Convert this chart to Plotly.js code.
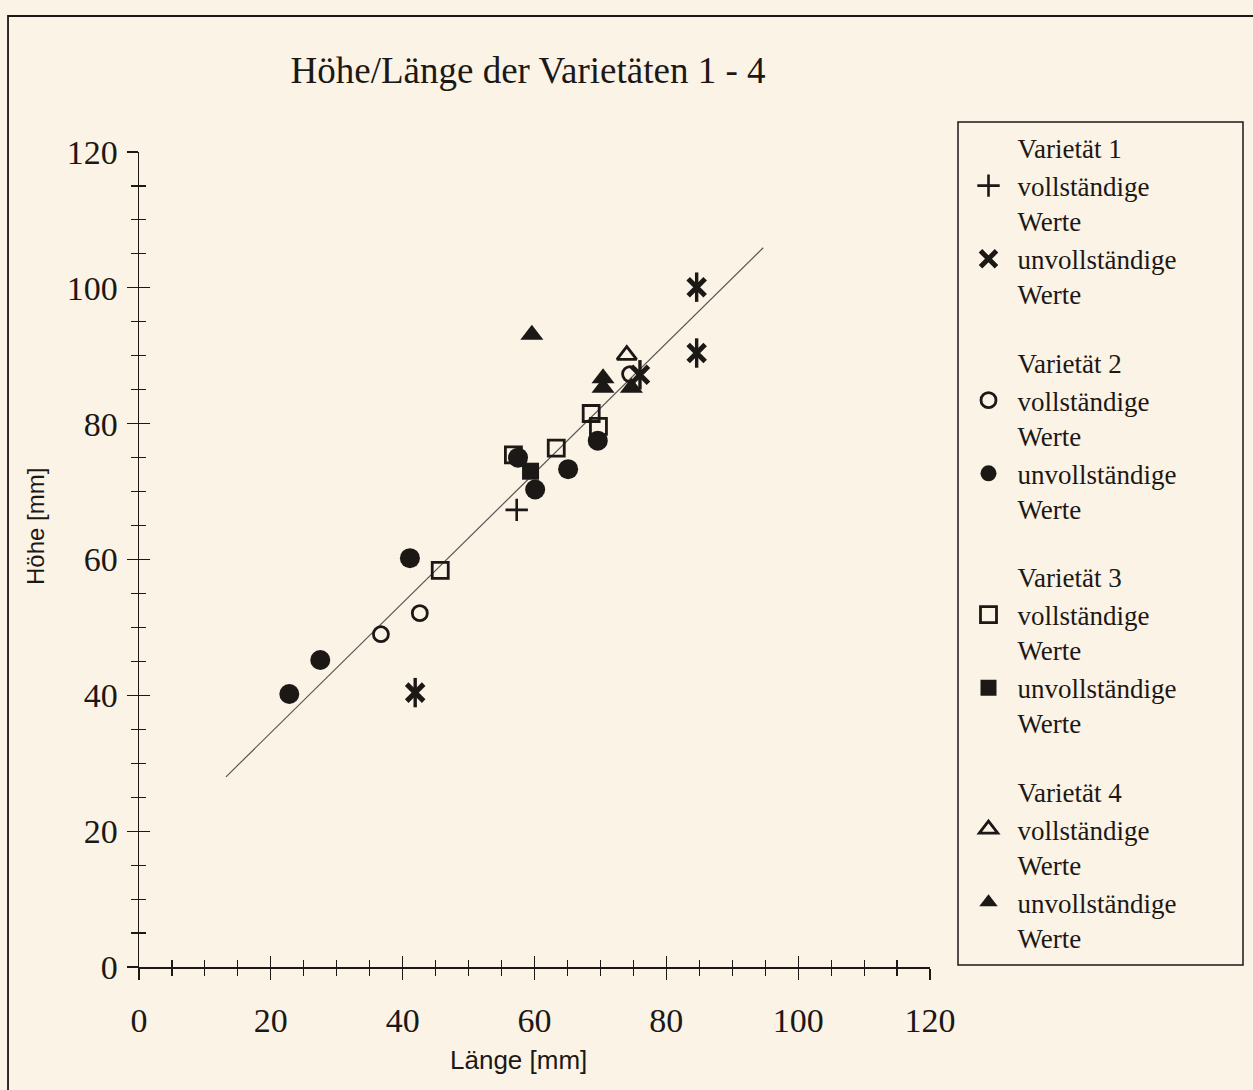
<!DOCTYPE html>
<html>
<head>
<meta charset="utf-8">
<script src="https://cdn.plot.ly/plotly-3.0.1.min.js"></script>
<style>
html,body{margin:0;padding:0;background:#fbf3e5;}
#chart{width:1253px;height:1090px;}
</style>
</head>
<body>
<div id="chart"></div>
<script>
// ---- data ----
var v1CompleteX = [57.3];
var v1CompleteY = [67.3];
var v1IncompleteX = [41.9, 84.6, 84.6, 76.0];
var v1IncompleteY = [40.4, 100.1, 90.4, 87.2];

var v2CompleteX = [36.7, 42.6, 74.5];
var v2CompleteY = [49.0, 52.1, 87.3];
var v2IncompleteX = [22.8, 27.5, 41.1, 57.5, 60.1, 65.1, 69.6];
var v2IncompleteY = [40.2, 45.2, 60.2, 75.0, 70.3, 73.3, 77.5];

var v3CompleteX = [45.7, 56.8, 63.3, 68.6, 69.7];
var v3CompleteY = [58.4, 75.4, 76.4, 81.5, 79.6];
var v3IncompleteX = [59.4];
var v3IncompleteY = [73.0];

var v4CompleteX = [74.0];
var v4CompleteY = [90.1];
var v4IncompleteX = [59.6, 70.4, 70.4, 74.7];
var v4IncompleteY = [93.1, 86.7, 85.3, 85.3];

var fitLineX = [13.2, 94.7];
var fitLineY = [28.0, 105.9];

var groupTitles = ["Varietät 1", "Varietät 2", "Varietät 3", "Varietät 4"];
var completeLabel = "vollständige<br>Werte";
var incompleteLabel = "unvollständige<br>Werte";
var chartTitle = "Höhe/Länge der Varietäten 1 - 4";
var xTitle = "Länge [mm]";
var yTitle = "Höhe [mm]";

// ---- styling ----
var ink = "#1b1816";
var bg = "#fbf3e5";
var serif = "Liberation Serif, Times New Roman, serif";
var sans = "Liberation Sans, Arial, sans-serif";

function header(i) {
  return {x:[null], y:[null], type:"scatter", mode:"markers", name:groupTitles[i],
    xaxis:"x2", yaxis:"y2",
    legendgroup:"g"+i, marker:{color:"rgba(0,0,0,0)", size:1}, hoverinfo:"skip"};
}
function pts(x, y, i, name, symbol, size, lw, show) {
  return {x:x, y:y, type:"scatter", mode:"markers", name:name, legendgroup:"g"+i,
    xaxis:"x2", yaxis:"y2",
    showlegend: show !== false,
    marker:{symbol:symbol, size:size, color:ink, line:{color:ink, width:lw}}};
}

var data = [
  {x:fitLineX, y:fitLineY, type:"scatter", mode:"lines", showlegend:false,
   xaxis:"x", yaxis:"y", line:{color:"#5a5552", width:1.2}, hoverinfo:"skip"},
  header(0),
  pts(v1CompleteX, v1CompleteY, 0, completeLabel, "cross-thin-open", 16, 2.6),
  pts(v1IncompleteX, v1IncompleteY, 0, incompleteLabel, "x-thin-open", 17, 5),
  pts(v1IncompleteX, v1IncompleteY, 0, incompleteLabel, "line-ns-open", 21, 3.4, false),
  header(1),
  pts(v2CompleteX, v2CompleteY, 1, completeLabel, "circle-open", 15, 2.8),
  pts(v2IncompleteX, v2IncompleteY, 1, incompleteLabel, "circle", 20, 0),
  header(2),
  pts(v3CompleteX, v3CompleteY, 2, completeLabel, "square-open", 16, 2.8),
  pts(v3IncompleteX, v3IncompleteY, 2, incompleteLabel, "square", 17, 0),
  header(3),
  pts(v4CompleteX, v4CompleteY, 3, completeLabel, "triangle-up-open", 17, 2.8),
  pts(v4IncompleteX, v4IncompleteY, 3, incompleteLabel, "triangle-up", 20, 0)
];

var axCommon = {
  range:[0,120], dtick:20, tick0:0, showgrid:false, zeroline:false, domain:[0,1],
  linecolor:ink, linewidth:1.5, tickcolor:ink, tickwidth:1.3, ticklen:11,
  tickfont:{family:serif, size:34, color:ink}
};

var layout = {
  width:1253, height:1090,
  paper_bgcolor:bg, plot_bgcolor:"rgba(0,0,0,0)",
  margin:{l:139, r:323, t:152, b:123, pad:0},
  title:{text:chartTitle, font:{family:serif, size:37, color:ink},
         x:0.4214, xref:"container", xanchor:"center", y:0.936, yref:"container", yanchor:"middle"},
  xaxis: Object.assign({}, axCommon, {anchor:"y", ticks:"outside", showline:true, ticklabelstandoff:12,
    minor:{dtick:5, ticks:"outside", ticklen:7, tickwidth:1.1, tickcolor:ink}}),
  yaxis: Object.assign({}, axCommon, {anchor:"x", ticks:"outside", showline:true, ticklabelstandoff:2,
    minor:{dtick:5, ticks:"outside", ticklen:7, tickwidth:1.1, tickcolor:ink}}),
  xaxis2: Object.assign({}, axCommon, {anchor:"y2", ticks:"inside", showline:false, showticklabels:false,
    minor:{dtick:5, ticks:"inside", ticklen:7, tickwidth:1.1, tickcolor:ink}}),
  yaxis2: Object.assign({}, axCommon, {anchor:"x2", ticks:"inside", showline:false, showticklabels:false,
    minor:{dtick:5, ticks:"inside", ticklen:7, tickwidth:1.1, tickcolor:ink}}),
  annotations:[
    {text:xTitle, xref:"paper", yref:"paper", x:(518-139)/791, y:(967-1060)/815,
     xanchor:"center", yanchor:"middle", showarrow:false, font:{family:sans, size:26, color:ink}},
    {text:yTitle, xref:"paper", yref:"paper", x:(35-139)/791, y:(967-527)/815,
     xanchor:"center", yanchor:"middle", showarrow:false, textangle:-90, font:{family:sans, size:24, color:ink}}
  ],
  legend:{x:(959.5-139)/791, xanchor:"left", y:(967-123.5)/815, yanchor:"top",
    bgcolor:"rgba(0,0,0,0)", borderwidth:0, font:{family:serif, size:27, color:ink},
    traceorder:"grouped", tracegroupgap:30, valign:"top", itemwidth:48, itemsizing:"trace", maxheight:1},
  shapes:[
    {type:"rect", xref:"paper", yref:"paper", x0:-0.1656, x1:1.45, y0:-0.2, y1:1.1669,
     line:{color:ink, width:1.8}, fillcolor:"rgba(0,0,0,0)"},
    {type:"rect", xref:"paper", yref:"paper", x0:(958-139)/791, x1:(1243-139)/791, y0:(967-965)/815, y1:(967-122)/815,
     line:{color:ink, width:1.5}, fillcolor:"rgba(0,0,0,0)"}
  ],
  showlegend:true
};
Plotly.newPlot("chart", data, layout, {displayModeBar:false, staticPlot:true});
</script>
</body>
</html>
